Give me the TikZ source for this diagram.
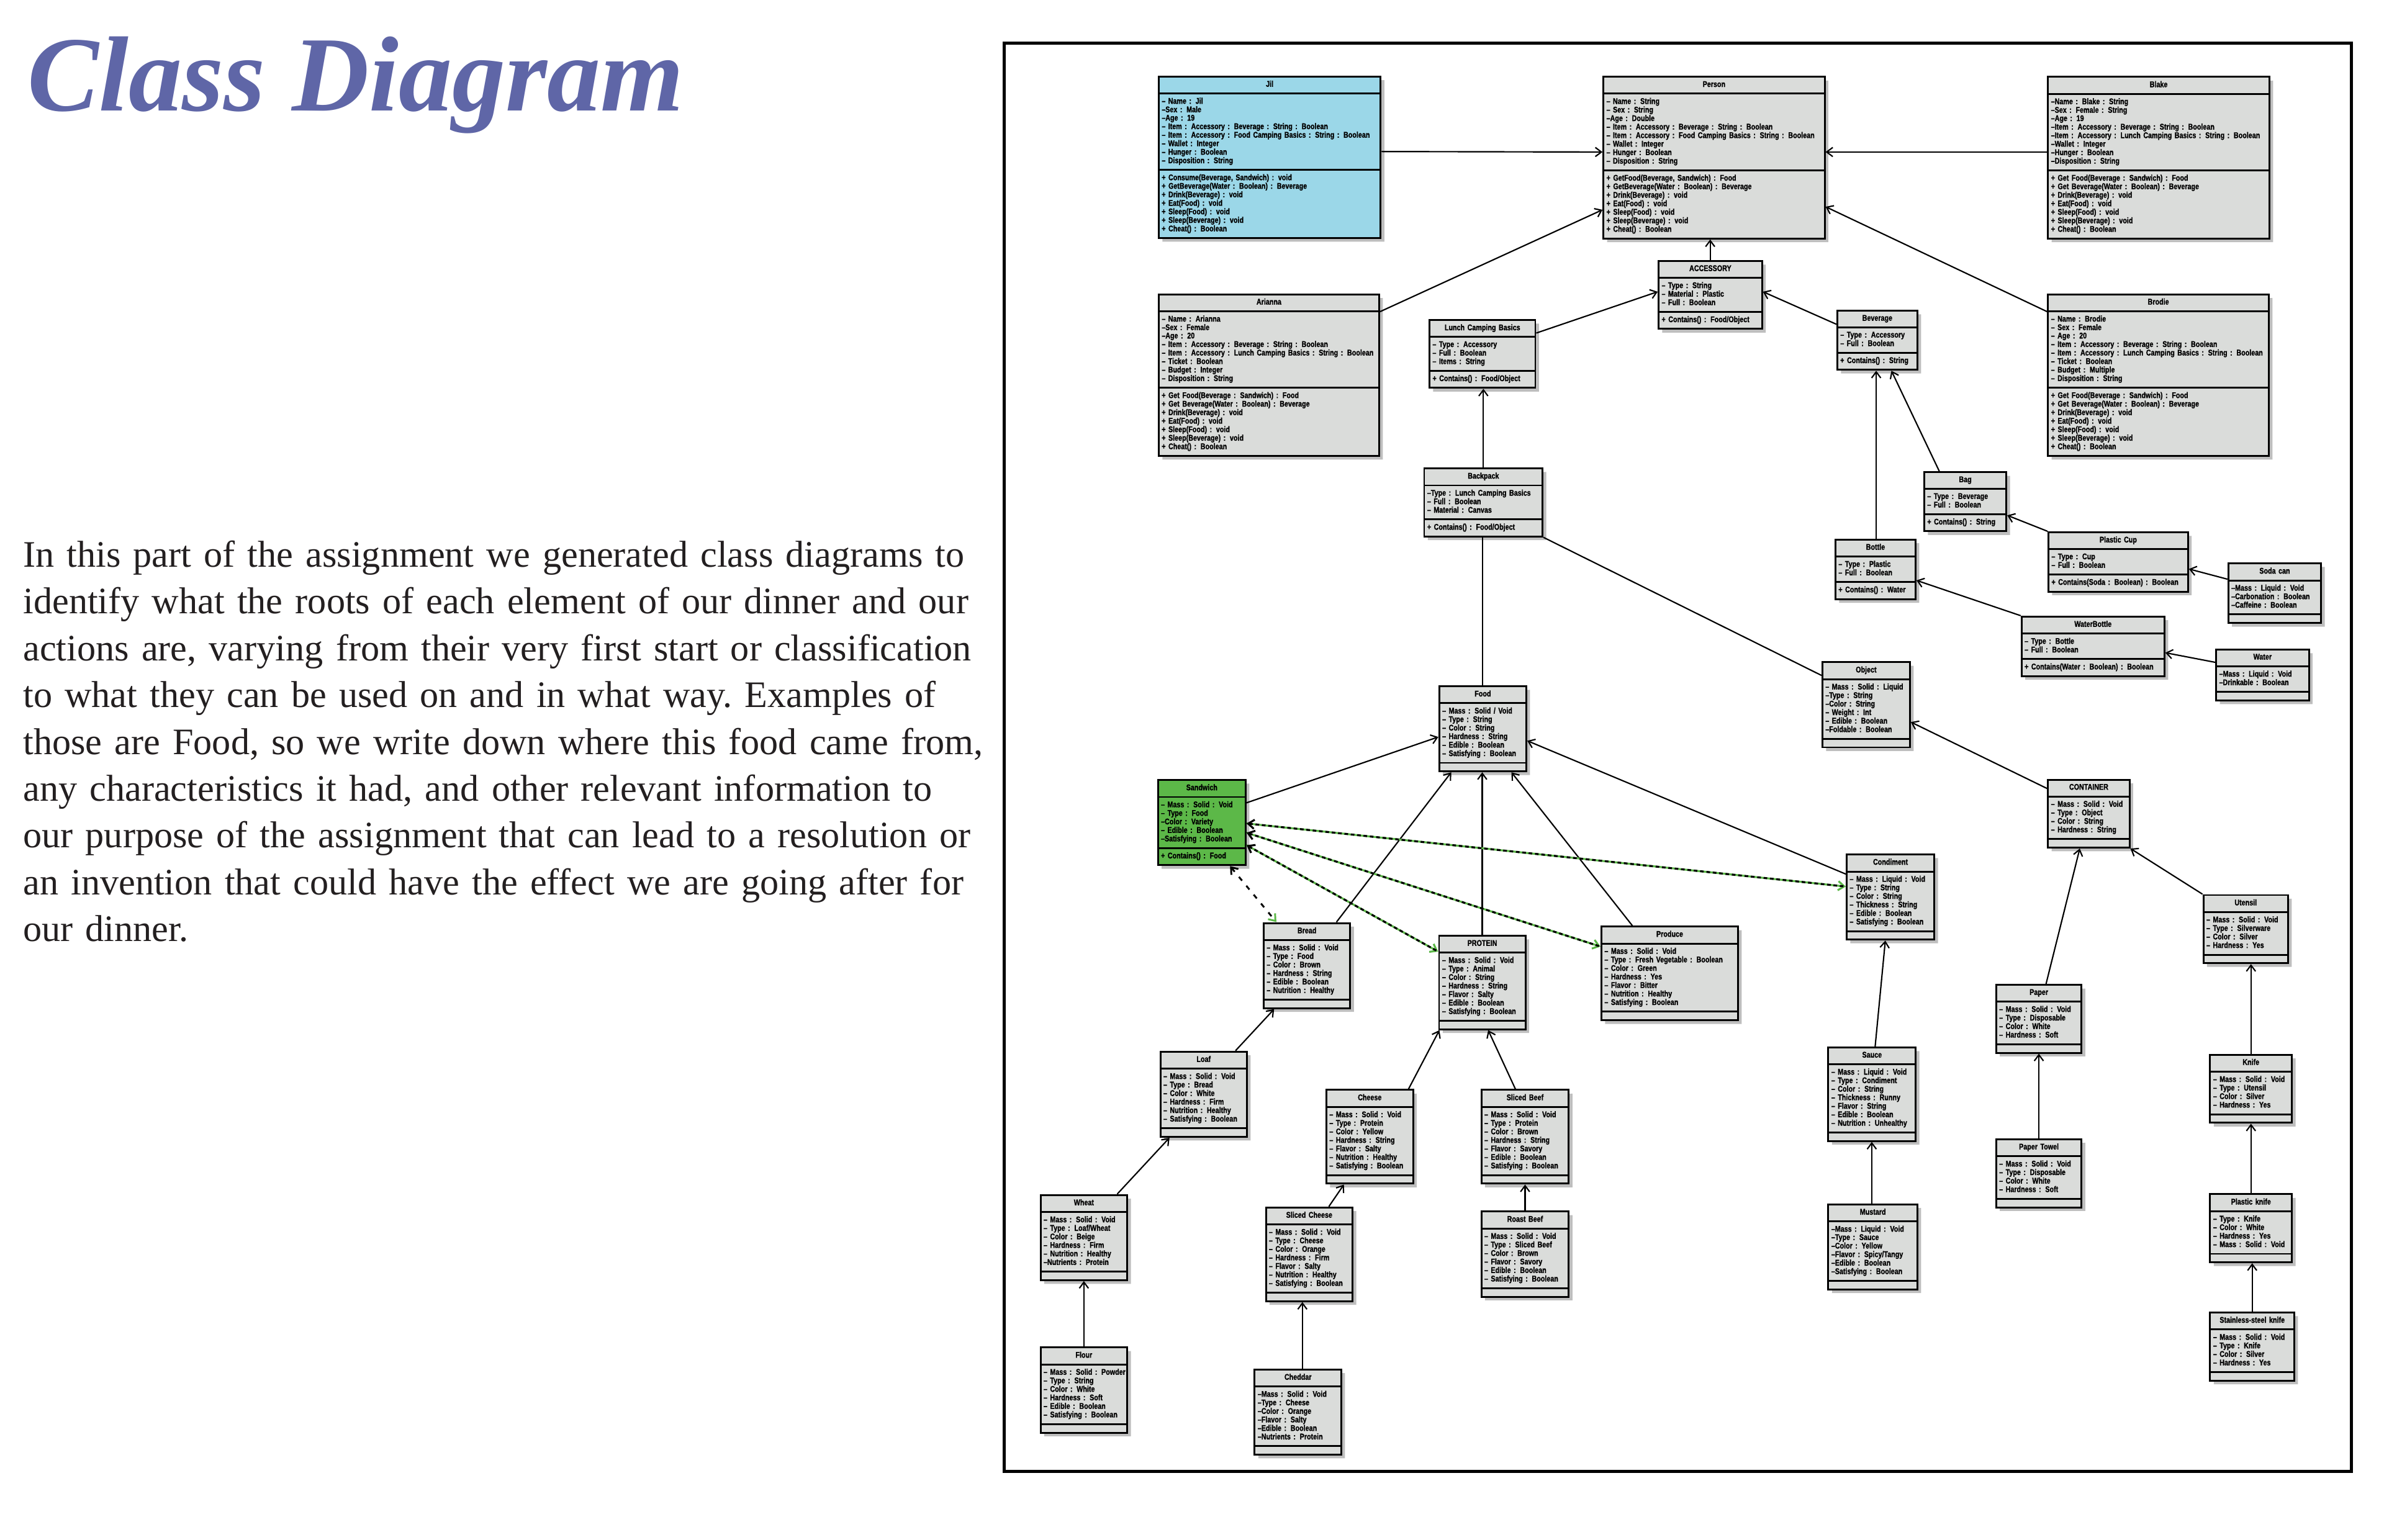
\documentclass[tikz,border=0pt]{standalone}
\usepackage{fontspec}
\setmainfont{Liberation Serif}
\newfontfamily\umlfont[FakeStretch=0.8, BoldFeatures={FakeBold=1.2}]{Liberation Sans}
\usetikzlibrary{shapes.multipart,shadows,arrows.meta,calc}
\definecolor{umlgray}{HTML}{DADCDA}
\definecolor{umlblue}{HTML}{9BD7E8}
\definecolor{umlgreen}{HTML}{5CB848}
\definecolor{shadowgray}{HTML}{BEBEBE}
\definecolor{titleblue}{HTML}{5F66A7}
\definecolor{bodytext}{HTML}{231F20}
\newcommand\umlhead[1]{\makebox[\linewidth][c]{\begin{tabular}{@{}c@{}}#1\end{tabular}}}
\newcommand\umlrows[1]{\begin{tabular}{@{}l@{}}#1\end{tabular}}
\tikzset{
  umlbox/.style={rectangle split, rectangle split parts=3, draw=black, line width=0.3mm, fill=umlgray,
    inner xsep=0.5mm, inner ysep=0.55mm, text width={#1*0.25mm-1mm}, align=left, anchor=north west,
    font=\umlfont\bfseries\fontsize{3.9pt}{3.87pt}\selectfont,
    rectangle split empty part height=0.3mm,
    drop shadow={shadow xshift=0.6mm, shadow yshift=-0.6mm, fill=shadowgray, opacity=1}},
  conn/.style={line width=0.22mm, -{Straight Barb[length=1mm,width=1.5mm]}},
  plainconn/.style={line width=0.22mm},
  greenline/.style={line width=0.32mm, draw=umlgreen, -{Straight Barb[length=1mm,width=1.5mm]}},
  blackdash/.style={line width=0.32mm, dash pattern=on 0.6mm off 0.45mm, {Straight Barb[length=1mm,width=1.5mm]}-},
}
\newcommand\umlclass[8][]{\node[umlbox={#5},#1] (#2) at (#3,#4) {\umlhead{#6}\nodepart{second}\umlrows{#7}\nodepart{third}#8};}
\begin{document}
\begin{tikzpicture}[x=0.25mm,y=-0.25mm]
\useasboundingbox (0,0) rectangle (1568,1013);
\fill[white] (0,0) rectangle (1568,1013);
\node[anchor=base west, inner sep=0, font=\fontsize{50pt}{60pt}\selectfont\bfseries\itshape, text=titleblue] (title) at (18,73) {Class Diagram};
\node[anchor=base west, inner sep=0, text width=175mm, align=left, font=\fontsize{17.5pt}{21.9pt}\selectfont\frenchspacing, text=bodytext] (intro) at (15,373) {In this part of the assignment we generated class diagrams to\\identify what the roots of each element of our dinner and our\\actions are, varying from their very first start or classification\\to what they can be used on and in what way. Examples of\\those are Food, so we write down where this food came from,\\any characteristics it had, and other relevant information to\\our purpose of the assignment that can lead to a resolution or\\an invention that could have the effect we are going after for\\our dinner.};
\draw[line width=0.5mm] (660.5,28.5) rectangle (1546.5,968);
% top row
\umlclass[fill=umlblue]{jil}{761.5}{49.7}{146}{Jil}{– Name : Jil\\–Sex : Male\\–Age : 19\\– Item : Accessory : Beverage : String : Boolean\\– Item : Accessory : Food Camping Basics : String : Boolean\\– Wallet : Integer\\– Hunger : Boolean\\– Disposition : String}{\umlrows{+ Consume(Beverage, Sandwich) : void\\+ GetBeverage(Water : Boolean) : Beverage\\+ Drink(Beverage) : void\\+ Eat(Food) : void\\+ Sleep(Food) : void\\+ Sleep(Beverage) : void\\+ Cheat() : Boolean}}
\umlclass{person}{1054}{50}{145.5}{Person}{– Name : String\\– Sex : String\\–Age : Double\\– Item : Accessory : Beverage : String : Boolean\\– Item : Accessory : Food Camping Basics : String : Boolean\\– Wallet : Integer\\– Hunger : Boolean\\– Disposition : String}{\umlrows{+ GetFood(Beverage, Sandwich) : Food\\+ GetBeverage(Water : Boolean) : Beverage\\+ Drink(Beverage) : void\\+ Eat(Food) : void\\+ Sleep(Food) : void\\+ Sleep(Beverage) : void\\+ Cheat() : Boolean}}
\umlclass{blake}{1346.4}{50}{145.6}{Blake}{–Name : Blake : String\\–Sex : Female : String\\–Age : 19\\–Item : Accessory : Beverage : String : Boolean\\–Item : Accessory : Lunch Camping Basics : String : Boolean\\–Wallet : Integer\\–Hunger : Boolean\\–Disposition : String}{\umlrows{+ Get Food(Beverage : Sandwich) : Food\\+ Get Beverage(Water : Boolean) : Beverage\\+ Drink(Beverage) : void\\+ Eat(Food) : void\\+ Sleep(Food) : void\\+ Sleep(Beverage) : void\\+ Cheat() : Boolean}}
\umlclass{arianna}{761.5}{193}{145}{Arianna}{– Name : Arianna\\–Sex : Female\\–Age : 20\\– Item : Accessory : Beverage : String : Boolean\\– Item : Accessory : Lunch Camping Basics : String : Boolean\\– Ticket : Boolean\\– Budget : Integer\\– Disposition : String}{\umlrows{+ Get Food(Beverage : Sandwich) : Food\\+ Get Beverage(Water : Boolean) : Beverage\\+ Drink(Beverage) : void\\+ Eat(Food) : void\\+ Sleep(Food) : void\\+ Sleep(Beverage) : void\\+ Cheat() : Boolean}}
\umlclass{brodie}{1346.4}{193}{145.2}{Brodie}{– Name : Brodie\\– Sex : Female\\– Age : 20\\– Item : Accessory : Beverage : String : Boolean\\– Item : Accessory : Lunch Camping Basics : String : Boolean\\– Ticket : Boolean\\– Budget : Multiple\\– Disposition : String}{\umlrows{+ Get Food(Beverage : Sandwich) : Food\\+ Get Beverage(Water : Boolean) : Beverage\\+ Drink(Beverage) : void\\+ Eat(Food) : void\\+ Sleep(Food) : void\\+ Sleep(Beverage) : void\\+ Cheat() : Boolean}}
% accessories
\umlclass{accessory}{1090.3}{171.1}{68}{ACCESSORY}{– Type : String\\– Material : Plastic\\– Full : Boolean}{\umlrows{+ Contains() : Food/Object}}
\umlclass{lcb}{939.6}{209.9}{69.6}{Lunch Camping Basics}{– Type : Accessory\\– Full : Boolean\\– Items : String}{\umlrows{+ Contains() : Food/Object}}
\umlclass{beverage}{1207.8}{203.8}{52.7}{Beverage}{– Type : Accessory\\– Full : Boolean}{\umlrows{+ Contains() : String}}
\umlclass{backpack}{936.1}{307.5}{77.9}{Backpack}{–Type : Lunch Camping Basics\\– Full : Boolean\\– Material : Canvas}{\umlrows{+ Contains() : Food/Object}}
\umlclass{bag}{1265}{310}{54}{Bag}{– Type : Beverage\\– Full : Boolean}{\umlrows{+ Contains() : String}}
\umlclass{bottle}{1206.6}{354.3}{52.7}{Bottle}{– Type : Plastic\\– Full : Boolean}{\umlrows{+ Contains() : Water}}
\umlclass{plasticcup}{1346.7}{349.5}{91.8}{Plastic Cup}{– Type : Cup\\– Full : Boolean}{\umlrows{+ Contains(Soda : Boolean) : Boolean}}
\umlclass{sodacan}{1465}{370}{61}{Soda can}{–Mass : Liquid : Void\\–Carbonation : Boolean\\–Caffeine : Boolean}{}
\umlclass{waterbottle}{1329}{405}{94}{WaterBottle}{– Type : Bottle\\– Full : Boolean}{\umlrows{+ Contains(Water : Boolean) : Boolean}}
\umlclass{water}{1457}{426.7}{61}{Water}{–Mass : Liquid : Void\\–Drinkable : Boolean}{}
\umlclass{object}{1198}{435}{57.6}{Object}{– Mass : Solid : Liquid\\–Type : String\\–Color : String\\– Weight : Int\\– Edible : Boolean\\–Foldable : Boolean}{}
% food
\umlclass{food}{946}{450.8}{57.3}{Food}{– Mass : Solid / Void\\– Type : String\\– Color : String\\– Hardness : String\\– Edible : Boolean\\– Satisfying : Boolean}{}
\umlclass[fill=umlgreen]{sandwich}{761}{512.5}{57.7}{Sandwich}{– Mass : Solid : Void\\– Type : Food\\–Color : Variety\\– Edible : Boolean\\–Satisfying : Boolean}{\umlrows{+ Contains() : Food}}
\umlclass{container}{1346.4}{512.3}{53.6}{CONTAINER}{– Mass : Solid : Void\\– Type : Object\\– Color : String\\– Hardness : String}{}
\umlclass{condiment}{1214}{561.5}{57.6}{Condiment}{– Mass : Liquid : Void\\– Type : String\\– Color : String\\– Thickness : String\\– Edible : Boolean\\– Satisfying : Boolean}{}
\umlclass{bread}{830.5}{606.6}{57}{Bread}{– Mass : Solid : Void\\– Type : Food\\– Color : Brown\\– Hardness : String\\– Edible : Boolean\\– Nutrition : Healthy}{}
\umlclass{protein}{945.9}{615}{56.8}{PROTEIN}{– Mass : Solid : Void\\– Type : Animal\\– Color : String\\– Hardness : String\\– Flavor : Salty\\– Edible : Boolean\\– Satisfying : Boolean}{}
\umlclass{produce}{1052.7}{608.9}{89.8}{Produce}{– Mass : Solid : Void\\– Type : Fresh Vegetable : Boolean\\– Color : Green\\– Hardness : Yes\\– Flavor : Bitter\\– Nutrition : Healthy\\– Satisfying : Boolean}{}
\umlclass{utensil}{1448.6}{588.2}{55.7}{Utensil}{– Mass : Solid : Void\\– Type : Silverware\\– Color : Silver\\– Hardness : Yes}{}
\umlclass{loaf}{762.6}{691.2}{56.9}{Loaf}{– Mass : Solid : Void\\– Type : Bread\\– Color : White\\– Hardness : Firm\\– Nutrition : Healthy\\– Satisfying : Boolean}{}
\umlclass{cheese}{871.8}{716.4}{57}{Cheese}{– Mass : Solid : Void\\– Type : Protein\\– Color : Yellow\\– Hardness : String\\– Flavor : Salty\\– Nutrition : Healthy\\– Satisfying : Boolean}{}
\umlclass{slicedbeef}{973.7}{716.4}{57.5}{Sliced Beef}{– Mass : Solid : Void\\– Type : Protein\\– Color : Brown\\– Hardness : String\\– Flavor : Savory\\– Edible : Boolean\\– Satisfying : Boolean}{}
\umlclass{sauce}{1201.9}{688.5}{57.5}{Sauce}{– Mass : Liquid : Void\\– Type : Condiment\\– Color : String\\– Thickness : Runny\\– Flavor : String\\– Edible : Boolean\\– Nutrition : Unhealthy}{}
\umlclass{paper}{1312.3}{647.3}{56.2}{Paper}{– Mass : Solid : Void\\– Type : Disposable\\– Color : White\\– Hardness : Soft}{}
\umlclass{knife}{1453}{693.2}{53.8}{Knife}{– Mass : Solid : Void\\– Type : Utensil\\– Color : Silver\\– Hardness : Yes}{}
\umlclass{wheat}{683.8}{785.5}{57}{Wheat}{– Mass : Solid : Void\\– Type : Loaf/Wheat\\– Color : Beige\\– Hardness : Firm\\– Nutrition : Healthy\\–Nutrients : Protein}{}
\umlclass{slicedcheese}{832}{793.7}{57}{Sliced Cheese}{– Mass : Solid : Void\\– Type : Cheese\\– Color : Orange\\– Hardness : Firm\\– Flavor : Salty\\– Nutrition : Healthy\\– Satisfying : Boolean}{}
\umlclass{roastbeef}{973.7}{796.4}{57.5}{Roast Beef}{– Mass : Solid : Void\\– Type : Sliced Beef\\– Color : Brown\\– Flavor : Savory\\– Edible : Boolean\\– Satisfying : Boolean}{}
\umlclass{mustard}{1201.9}{791.7}{58.6}{Mustard}{–Mass : Liquid : Void\\–Type : Sauce\\–Color : Yellow\\–Flavor : Spicy/Tangy\\–Edible : Boolean\\–Satisfying : Boolean}{}
\umlclass{papertowel}{1312.3}{748.8}{56.2}{Paper Towel}{– Mass : Solid : Void\\– Type : Disposable\\– Color : White\\– Hardness : Soft}{}
\umlclass{plasticknife}{1453}{785}{53.8}{Plastic knife}{– Type : Knife\\– Color : White\\– Hardness : Yes\\– Mass : Solid : Void}{}
\umlclass{flour}{683.8}{885.8}{57}{Flour}{– Mass : Solid : Powder\\– Type : String\\– Color : White\\– Hardness : Soft\\– Edible : Boolean\\– Satisfying : Boolean}{}
\umlclass{cheddar}{824.6}{900.3}{57}{Cheddar}{–Mass : Solid : Void\\–Type : Cheese\\–Color : Orange\\–Flavor : Salty\\–Edible : Boolean\\–Nutrients : Protein}{}
\umlclass{stainless}{1453}{862.8}{55.4}{Stainless-steel knife}{– Mass : Solid : Void\\– Type : Knife\\– Color : Silver\\– Hardness : Yes}{}
% connectors
\draw[conn] ($(jil.north east)+(0,50)$) -- ($(person.north west)+(0,50)$);
\draw[conn] ($(blake.north west)+(0,50)$) -- ($(person.north east)+(0,50)$);
\draw[conn] ($(arianna.north east)+(0,12)$) -- ($(person.north west)+(0,88)$);
\draw[conn] ($(brodie.north west)+(0,12)$) -- ($(person.north east)+(0,86)$);
\coordinate (accTop) at ($(accessory.north west)+(34.5,0)$);
\draw[conn] (accTop) -- (accTop |- person.south);
\draw[conn] ($(lcb.north east)+(0,9.2)$) -- ($(accessory.north west)+(0,20.8)$);
\draw[conn] ($(beverage.north west)+(0,9.5)$) -- ($(accessory.north east)+(0,20.8)$);
\draw[conn] (backpack.north) -- (backpack.north |- lcb.south);
\coordinate (botTop) at ($(bottle.north west)+(27.4,0)$);
\draw[conn] (botTop) -- (botTop |- beverage.south);
\draw[conn] ($(bag.north west)+(10.5,0)$) -- ($(beverage.south west)+(36.2,0)$);
\draw[conn] (plasticcup.north west) -- ($(bag.north east)+(0,29)$);
\draw[conn] ($(sodacan.north west)+(0,11)$) -- ($(plasticcup.north east)+(0,24.8)$);
\draw[conn] (waterbottle.north west) -- ($(bottle.north east)+(0,27.5)$);
\draw[conn] ($(water.north west)+(0,9)$) -- ($(waterbottle.north east)+(0,24.4)$);
\draw[plainconn] (backpack.south east) -- ($(object.north west)+(0,9.3)$);
\draw[plainconn] (food.north) -- (food.north |- backpack.south);
\draw[conn] ($(container.north west)+(0,6.4)$) -- ($(object.north east)+(0,40)$);
\draw[conn] ($(sandwich.north east)+(0,15.6)$) -- ($(food.north west)+(0,34)$);
\draw[conn] ($(condiment.north west)+(0,13.5)$) -- ($(food.north east)+(0,36.5)$);
\draw[conn] ($(bread.north west)+(48.5,0)$) -- ($(food.south west)+(8.5,0)$);
\draw[conn] (protein.north) -- (protein.north |- food.south);
\draw[conn] ($(produce.north west)+(20.9,0)$) -- ($(food.south west)+(48.1,0)$);
% sandwich dependencies
\coordinate (sw1) at ($(sandwich.north east)+(0,29.2)$);
\coordinate (sw2) at ($(sandwich.north east)+(0,35.3)$);
\coordinate (sw3) at ($(sandwich.north east)+(0,43.5)$);
\coordinate (sw4) at ($(sandwich.south west)+(48,0)$);
\coordinate (cd1) at ($(condiment.north west)+(0,21.7)$);
\coordinate (pr1) at ($(produce.north west)+(0,13.8)$);
\coordinate (pt1) at ($(protein.north west)+(0,11)$);
\coordinate (br1) at ($(bread.north west)+(9,0)$);
\draw[greenline] (sw1) -- (cd1);
\draw[blackdash] (sw1) -- (cd1);
\draw[greenline] (sw2) -- (pr1);
\draw[blackdash] (sw2) -- (pr1);
\draw[greenline] (sw3) -- (pt1);
\draw[blackdash] (sw3) -- (pt1);
\draw[line width=0.3mm, dash pattern=on 0.8mm off 1.1mm, {Straight Barb[length=1mm,width=1.5mm]}-{Straight Barb[length=1mm,width=1.5mm,color=umlgreen]}] (sw4) -- (br1);
% bread chain
\draw[conn] ($(loaf.north west)+(50,0)$) -- ($(bread.south west)+(7.5,0)$);
\draw[conn] ($(wheat.north west)+(51,0)$) -- ($(loaf.south west)+(6.6,0)$);
\draw[conn] (flour.north) -- (flour.north |- wheat.south);
% protein chain
\draw[conn] ($(cheese.north west)+(54.6,0)$) -- ($(protein.south west)+(0.8,0)$);
\draw[conn] ($(slicedbeef.north west)+(23,0)$) -- ($(protein.south west)+(32.9,0)$);
\draw[conn] ($(slicedcheese.north west)+(42,0)$) -- ($(cheese.south west)+(12.1,0)$);
\coordinate (chTop) at ($(cheddar.north west)+(32,0)$);
\draw[conn] (chTop) -- (chTop |- slicedcheese.south);
\draw[conn] (roastbeef.north) -- (roastbeef.north |- slicedbeef.south);
% condiment chain
\draw[conn] ($(sauce.north west)+(31.4,0)$) -- ($(condiment.south west)+(26,0)$);
\coordinate (muTop) at ($(mustard.north west)+(29.2,0)$);
\draw[conn] (muTop) -- (muTop |- sauce.south);
% container chain
\draw[conn] ($(paper.north west)+(33.4,0)$) -- ($(container.south west)+(21.5,0)$);
\draw[conn] (papertowel.north) -- (papertowel.north |- paper.south);
\draw[conn] (utensil.north west) -- (container.south east);
\draw[conn] (knife.north) -- (knife.north |- utensil.south);
\draw[conn] (plasticknife.north) -- (plasticknife.north |- knife.south);
\draw[conn] (stainless.north) -- (stainless.north |- plasticknife.south);
\end{tikzpicture}
\end{document}
